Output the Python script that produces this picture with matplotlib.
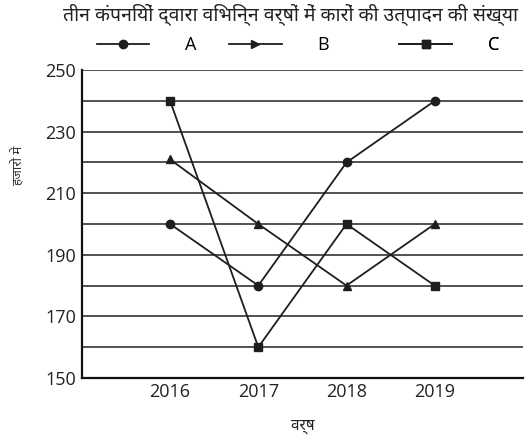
import matplotlib
matplotlib.use('Agg')
from matplotlib import pyplot as plt
from matplotlib.lines import Line2D
from matplotlib import font_manager

years = [2016, 2017, 2018, 2019]
company_a = [200, 180, 220, 240]
company_b = [221, 200, 180, 200]
company_c = [240, 160, 200, 180]
labels = ['A', 'B', 'C']
title = 'तीन कंपनियों द्वारा विभिन्न वर्षों में कारों की उत्पादन की संख्या'
xlabel = 'वर्ष'
ylabel = 'हजारों में'

# pick a Devanagari font that is installed
names = set(f.name for f in font_manager.fontManager.ttflist)
pref = ['Noto Sans Devanagari', 'Hind', 'Mukta', 'Anek Devanagari']
deva = [n for n in pref if n in names]
hindi_fonts = deva + ['Noto Sans', 'DejaVu Sans']

plt.rcParams['font.family'] = ['Open Sans', 'DejaVu Sans']

fig = plt.figure(figsize=(5.25, 4.41), dpi=100)
ax = fig.add_axes([0.156, 0.143, 0.84, 0.698])

col = '#1e1e1e'
ax.plot(years, company_a, '-o', color=col, lw=1.3, ms=6)
ax.plot(years, company_b, '-^', color=col, lw=1.3, ms=6)
ax.plot(years, company_c, '-s', color=col, lw=1.3, ms=6)

ax.set_xlim(2015, 2020)
ax.set_ylim(150, 250)
ax.set_xticks(years)
ax.set_yticks(range(150, 251, 20))
ax.set_yticks(range(160, 251, 20), minor=True)
ax.grid(axis='y', which='both', color='#333333', lw=1.2)
ax.set_axisbelow(True)
ax.tick_params(length=0, labelsize=13, colors='#222222', pad=4)
ax.tick_params(which='minor', length=0)
for s in ['top', 'right']:
    ax.spines[s].set_visible(False)
for s in ['left', 'bottom']:
    ax.spines[s].set_linewidth(1.6)
    ax.spines[s].set_color('#111111')

ax.set_xlabel(xlabel, family=hindi_fonts, fontsize=11, color='#222222')
ax.xaxis.set_label_coords(0.5, -0.135)
ax.set_ylabel(ylabel, family=hindi_fonts, fontsize=9.5, color='#333333')
ax.yaxis.set_label_coords(-0.13, 0.69)
fig.text(0.553, 0.966, title, family=hindi_fonts, fontsize=14, ha='center', va='center', color='#222222')

# legend entries placed one by one, spacing in the reference is uneven
markers = ['o', '>', 's']
anchors = [0.034, 0.334, 0.72]
for lab, m, xa in zip(labels, markers, anchors):
    h = Line2D([], [], color=col, lw=1.3, marker=m, ms=6)
    leg = ax.legend([h], [lab], frameon=False, loc='center left', bbox_to_anchor=(xa, 1.08),
                    handlelength=2.9, handletextpad=2.0, fontsize=13, borderpad=0,
                    borderaxespad=0)
    ax.add_artist(leg)

fig.savefig('out.png')
